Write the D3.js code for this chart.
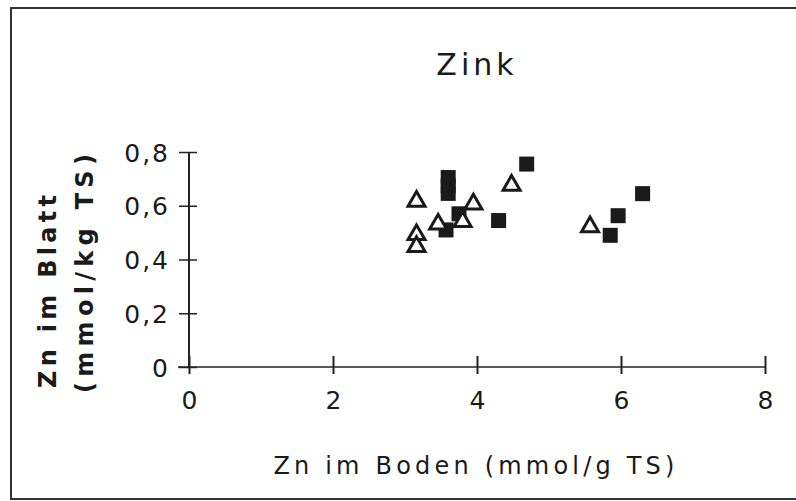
<!DOCTYPE html>
<html>
<head>
<meta charset="utf-8">
<script src="https://cdn.jsdelivr.net/npm/d3@7"></script>
<style>
  body { margin: 0; background: #fff; }
  text { font-family: "DejaVu Sans", Verdana, sans-serif; fill: #1a1a1a; }
</style>
</head>
<body>
<div id="chart"></div>
<script>
// data
const squareX = [3.6, 3.6, 3.6, 3.75, 3.57, 4.3, 4.69, 5.85, 5.96, 6.3];
const squareY = [0.705, 0.675, 0.646, 0.57, 0.51, 0.545, 0.755, 0.49, 0.563, 0.645];
const triangleX = [3.16, 3.16, 3.16, 3.46, 3.8, 3.95, 4.48, 5.57];
const triangleY = [0.62, 0.496, 0.452, 0.535, 0.545, 0.61, 0.68, 0.525];
const xTicks = [0, 2, 4, 6, 8];
const yTicks = [0, 0.2, 0.4, 0.6, 0.8];

const width = 796, height = 501;

const svg = d3.select("div#chart")
    .append("svg")
    .attr("width", width)
    .attr("height", height);

// outer frame
svg.append("rect")
    .attr("x", 11).attr("y", 8)
    .attr("width", 790).attr("height", 491)
    .attr("fill", "none")
    .attr("stroke", "#333")
    .attr("stroke-width", 2);

const x = d3.scaleLinear().domain([0, 8]).range([189, 765]);
const y = d3.scaleLinear().domain([0, 0.8]).range([367, 152]);
const comma = d => d3.format(".1f")(d).replace(".", ",");

// x axis
const xAxis = svg.append("g")
    .attr("transform", `translate(0,${y(0)})`)
    .call(d3.axisBottom(x).tickValues(xTicks).tickSize(0).tickFormat(d => d));
xAxis.select(".domain").remove();
xAxis.append("line")
    .attr("x1", 178).attr("x2", x(8))
    .attr("stroke", "#222").attr("stroke-width", 1.5);
xAxis.selectAll(".tick").append("line")
    .attr("y1", -11).attr("y2", 7)
    .attr("stroke", "#222").attr("stroke-width", 2);
xAxis.selectAll(".tick text")
    .attr("y", 42).attr("dy", 0)
    .attr("font-size", 25)
    .attr("fill", "#222");

// y axis
const yAxis = svg.append("g")
    .attr("transform", `translate(${x(0)},0)`)
    .call(d3.axisLeft(y).tickValues(yTicks).tickSize(0).tickFormat(d => d === 0 ? "0" : comma(d)));
yAxis.select(".domain").remove();
yAxis.append("line")
    .attr("y1", y(0) + 1).attr("y2", y(0.8))
    .attr("stroke", "#222").attr("stroke-width", 2);
yAxis.selectAll(".tick").append("line")
    .attr("x1", -10).attr("x2", 8)
    .attr("stroke", "#222").attr("stroke-width", 1.5);
yAxis.selectAll(".tick text")
    .attr("x", -19).attr("dy", "0.36em")
    .attr("font-size", 25)
    .attr("letter-spacing", 2)
    .attr("fill", "#222");

// squares
const sq = 15;
svg.selectAll("rect.sq")
    .data(squareX.map((v, i) => [v, squareY[i]]))
    .enter().append("rect")
    .attr("class", "sq")
    .attr("x", d => x(d[0]) - sq / 2)
    .attr("y", d => y(d[1]) - sq / 2)
    .attr("width", sq).attr("height", sq)
    .attr("fill", "#1a1a1a");

// open triangles
const tri = d3.symbol().type(d3.symbolTriangle).size(125);
svg.selectAll("path.tri")
    .data(triangleX.map((v, i) => [v, triangleY[i]]))
    .enter().append("path")
    .attr("class", "tri")
    .attr("d", tri)
    .attr("transform", d => `translate(${x(d[0])},${y(d[1]) + 1})`)
    .attr("fill", "#fff")
    .attr("stroke", "#1a1a1a")
    .attr("stroke-width", 3);

// titles
svg.append("text")
    .attr("x", 477).attr("y", 75)
    .attr("text-anchor", "middle")
    .attr("font-size", 30)
    .attr("letter-spacing", 4)
    .text("Zink");

svg.append("text")
    .attr("x", 476).attr("y", 474)
    .attr("text-anchor", "middle")
    .attr("font-size", 24)
    .attr("letter-spacing", 4.2)
    .text("Zn im Boden (mmol/g TS)");

svg.append("text")
    .attr("transform", "translate(56,388) rotate(-90)")
    .attr("font-family", "'DejaVu Sans Mono', monospace")
    .attr("font-size", 24)
    .attr("font-weight", "bold")
    .attr("letter-spacing", 4.3)
    .text("Zn im Blatt");

svg.append("text")
    .attr("transform", "translate(93,393) rotate(-90)")
    .attr("font-family", "'DejaVu Sans Mono', monospace")
    .attr("font-size", 24)
    .attr("font-weight", "bold")
    .attr("letter-spacing", 5.3)
    .text("(mmol/kg TS)");
</script>
</body>
</html>
